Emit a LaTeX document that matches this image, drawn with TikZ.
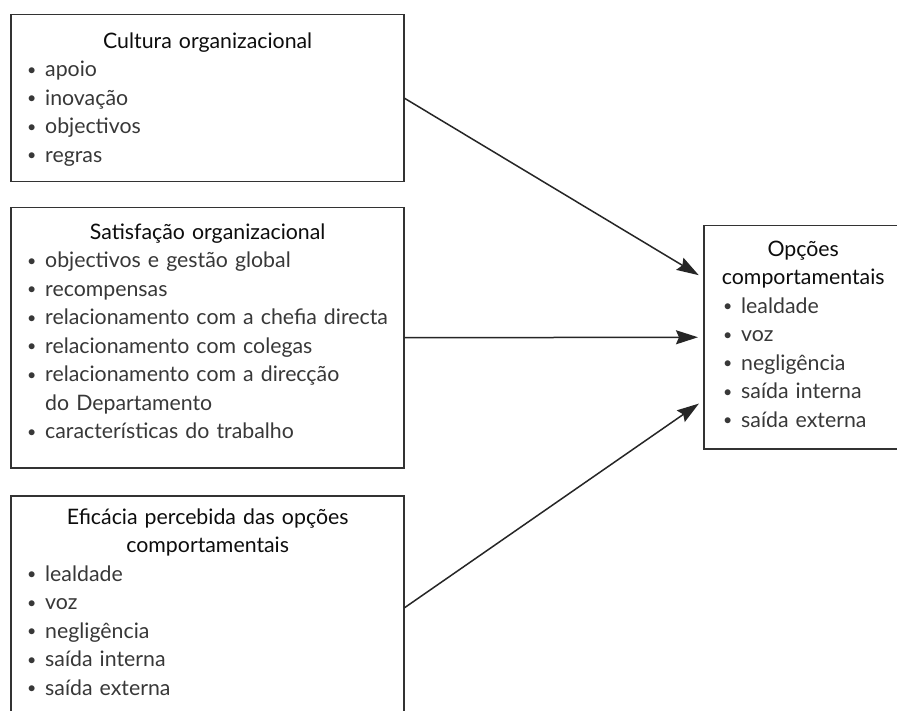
\documentclass[tikz,border=0pt]{standalone}
\usepackage{fontspec}
\setmainfont{Lato}
\usetikzlibrary{arrows.meta,calc}
\newcommand\bul{\makebox[18pt][l]{\raisebox{1.5pt}{\scalebox{0.75}{•}}}}
\newcommand\ttl[1]{\makebox[\linewidth][c]{\color{black!95}#1}}
\begin{document}
\begin{tikzpicture}[x=1pt,y=-1pt,
  box/.style={draw=black!80, line width=1.5pt, anchor=north west, inner sep=0pt},
  txt/.style={anchor=north west, inner sep=0pt, text width=#1,
    font=\fontsize{21.3}{28.5}\selectfont, text=black!78},
  arr/.style={line width=1.5pt, draw=black!85,
    -{Stealth[length=22pt,width=14pt,inset=3pt]}, shorten >=5pt}]
\useasboundingbox (0,0) rectangle (897,711);
\clip (0,0) rectangle (897,711);
\fill[white] (0,0) rectangle (897,711);
% boxes
\node[box, minimum width=393pt, minimum height=167pt] (b1) at (10,14) {};
\node[box, minimum width=393pt, minimum height=260pt] (b2) at (10,207) {};
\node[box, minimum width=393pt, minimum height=224pt] (b3) at (10,495) {};
\node[box, minimum width=200pt, minimum height=223pt] (rb) at (703,225) {};
% texts
\node[txt=361pt] (t1) at ([xshift=17pt,yshift=-14pt]b1.north west) {\strut\ttl{Cultura organizacional}\par
\bul apoio\par
\bul inovação\par
\bul objectivos\par
\bul regras};
\node[txt=361pt] (t2) at ([xshift=17pt,yshift=-12pt]b2.north west) {\strut\ttl{Satisfação organizacional}\par
\bul objectivos e gestão global\par
\bul recompensas\par
\bul relacionamento com a chefia directa\par
\bul relacionamento com colegas\par
\bul relacionamento com a direcção\par
\hspace*{18pt}do Departamento\par
\bul características do trabalho};
\node[txt=361pt] (t3) at ([xshift=17pt,yshift=-9pt]b3.north west) {\strut\ttl{Eficácia percebida das opções}\par
\ttl{comportamentais}\par
\bul lealdade\par
\bul voz\par
\bul negligência\par
\bul saída interna\par
\bul saída externa};
\node[txt=160pt] (t4) at ([xshift=20pt,yshift=-11pt]rb.north west) {\strut\ttl{Opções}\par
\ttl{comportamentais}\par
\bul lealdade\par
\bul voz\par
\bul negligência\par
\bul saída interna\par
\bul saída externa};
% arrow targets
\coordinate (e1) at ([yshift=59.5pt]rb.west);
\coordinate (e3) at ([yshift=-63.5pt]rb.west);
\draw[arr] (b1.east) -- (e1);
\draw[arr] (b2.east) -- (rb.west);
\draw[arr] (b3.east) -- (e3);
\end{tikzpicture}
\end{document}
